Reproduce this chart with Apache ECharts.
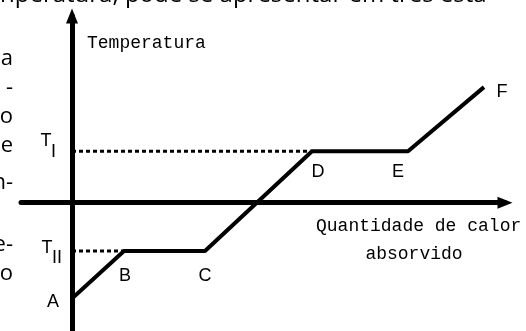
<!DOCTYPE html>
<html>
<head>
<meta charset="utf-8">
<script src="https://cdn.jsdelivr.net/npm/echarts@6/dist/echarts.min.js"></script>
<style>
    html, body {margin: 0; padding: 0; background: #fff;}
    #chart {width: 526px; height: 331px;}
</style>
</head>
<body>
<div id="chart"></div>
<script>
// curve A..F : quantidade de calor (x) / temperatura (y), arbitrary units
var heat = [0, 5.2, 13.3, 24.0, 33.6, 41.2];
var temperature = [-9.7, -4.9, -4.9, 5.2, 5.2, 11.7];
var pointNames = ['A', 'B', 'C', 'D', 'E', 'F'];

// T_I and T_II levels, dashed up to where the curve reaches them
var levelTemps = [5.2, -4.9];
var levelHeatEnds = [24.0, 5.2];
var levelSubs = ['I', 'II'];

var yAxisName = 'Temperatura';
var xAxisName = ['Quantidade de calor', 'absorvido'];

// page text around the picture (cut off)
var topLine = 'nperatura, pode se apresentar em três esta';
var sideText = ['a', '-', 'o', 'e', 'n-', 'e-', 'o'];

// layout only
var sideTextY = [59, 88, 117, 146, 183, 245, 274];
var labelOffsets = [[-19, 4], [1, 25], [0, 25], [6, 21], [-10, 21], [18, 5]];
var levelTOffsets = [[-26, -10], [-25, -3]];
var levelSubOffsets = [[-18.5, 1], [-15, 7]];

var chartFont = 'Liberation Sans';
var wordFont = 'Liberation Mono';

var chart = echarts.init(document.getElementById('chart'));

var curve = [];
for (var i = 0; i < heat.length; i++) {
    curve.push([heat[i], temperature[i]]);
}

var series = [{
    type: 'line',
    data: curve,
    symbol: 'none',
    silent: true,
    lineStyle: {color: '#000', width: 4},
    z: 3
}];
for (var j = 0; j < levelTemps.length; j++) {
    series.push({
        type: 'line',
        data: [[0, levelTemps[j]], [levelHeatEnds[j], levelTemps[j]]],
        symbol: 'none',
        silent: true,
        lineStyle: {color: '#000', width: 3, type: [4, 3]},
        z: 2
    });
}

function axisStyle(min, max) {
    return {
        type: 'value',
        min: min,
        max: max,
        axisLine: {
            onZero: true,
            symbol: ['none', 'triangle'],
            symbolSize: [12, 15],
            lineStyle: {color: '#000', width: 5}
        },
        axisTick: {show: false},
        axisLabel: {show: false},
        splitLine: {show: false},
        z: 4
    };
}

chart.setOption({
    animation: false,
    backgroundColor: '#fff',
    grid: {left: 21, top: 16, width: 484, height: 319},
    xAxis: axisStyle(-5.1, 43.3),
    yAxis: axisStyle(-13.0, 18.9),
    series: series
});

var graphics = [];

function addText(x, y, text, font, size, align) {
    graphics.push({
        type: 'text',
        x: x,
        y: y,
        silent: true,
        style: {
            text: text,
            fill: '#000',
            font: size + 'px "' + font + '"',
            align: align || 'center',
            verticalAlign: 'middle'
        }
    });
}

for (var k = 0; k < pointNames.length; k++) {
    var p = chart.convertToPixel({gridIndex: 0}, [heat[k], temperature[k]]);
    addText(p[0] + labelOffsets[k][0], p[1] + labelOffsets[k][1], pointNames[k], chartFont, 18);
}

for (var m = 0; m < levelTemps.length; m++) {
    var q = chart.convertToPixel({gridIndex: 0}, [0, levelTemps[m]]);
    addText(q[0] + levelTOffsets[m][0], q[1] + levelTOffsets[m][1], 'T', chartFont, 18);
    addText(q[0] + levelSubOffsets[m][0], q[1] + levelSubOffsets[m][1], levelSubs[m], chartFont, 18);
}

addText(87, 43, yAxisName, wordFont, 18, 'left');
addText(316, 226, xAxisName[0], wordFont, 18, 'left');
addText(414, 254, xAxisName[1], wordFont, 18, 'center');

addText(0, -5, topLine, 'Open Sans', 24, 'left');
for (var n = 0; n < sideText.length; n++) {
    addText(13, sideTextY[n], sideText[n], 'Open Sans', 22, 'right');
}

chart.setOption({graphic: graphics});
</script>
</body>
</html>
